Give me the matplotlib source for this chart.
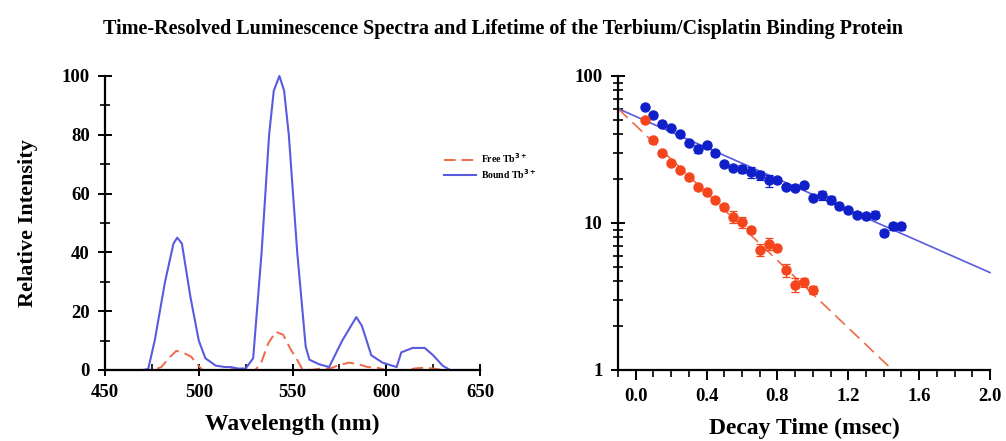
import numpy as np
import matplotlib
matplotlib.use("Agg")
import matplotlib.pyplot as plt
from matplotlib.ticker import MultipleLocator, LogLocator, NullFormatter, FuncFormatter

plt.rcParams['font.family'] = ['Liberation Serif', 'DejaVu Serif']
plt.rcParams['font.weight'] = 'bold'

# --- spectra ---
wl_bound = [450, 470, 473, 476.5, 482, 486.5, 488.5, 491, 495.5, 500, 503.5, 509, 514, 517,
            521, 525, 529, 533.5, 537.5, 540, 543, 545.5, 548, 552.5, 557, 559, 564, 569.5,
            576.5, 584, 587, 592, 598, 605.5, 608, 614, 620.5, 625, 630, 634, 650]
bound = [0, 0, 0.3, 10, 30, 43, 45, 43, 25, 10, 4, 1.5, 1, 1,
         0.5, 0.5, 4, 40, 80, 95, 100, 95, 80, 40, 8, 3.5, 2, 1,
         10, 18, 15, 5, 2.5, 1, 6, 7.5, 7.5, 5, 1.5, 0, 0]

wl_free = [450, 476, 480, 484, 488, 492, 496, 499, 502, 510, 520, 525, 530, 533, 537, 541,
           545, 549, 552, 555, 560, 565, 570, 574, 580, 585, 590, 595, 600, 610, 615, 620,
           625, 630, 650]
free = [0, 0, 1, 4, 6.5, 5.8, 4.5, 2, 0, 0, 0.3, 0, 0, 2, 9, 13,
        12, 7, 4, 0.5, 0, 0.5, 0.5, 1.5, 2.5, 2, 1, 0.8, 0, 0, 0.5, 0.8,
        0.5, 0, 0]

# --- lifetime decay data ---
t_bound = [0.05, 0.10, 0.15, 0.20, 0.25, 0.30, 0.35, 0.40, 0.45, 0.50, 0.55, 0.60, 0.65, 0.70,
           0.75, 0.80, 0.85, 0.90, 0.95, 1.00, 1.05, 1.10, 1.15, 1.20, 1.25, 1.30, 1.35, 1.40,
           1.45, 1.50]
i_bound = [62, 54.7, 47.5, 44, 40.6, 35, 32, 33.8, 29.7, 25.3, 23.8, 23.4, 22.2, 21.1,
           19.5, 19.5, 17.7, 17.4, 18, 14.9, 15.4, 14.3, 13, 12.2, 11.4, 11.2, 11.4, 8.6,
           9.5, 9.5]
e_bound = [1.5, 1.5, 1.2, 1.2, 1.0, 1.2, 2.0, 1.2, 1.0, 0.8, 0.8, 1.5, 2.0, 1.5,
           1.8, 0.8, 0.8, 0.7, 0.8, 0.6, 1.0, 0.9, 0.5, 0.5, 0.5, 0.5, 0.6, 0.4,
           0.5, 0.5]

t_free = [0.05, 0.10, 0.15, 0.20, 0.25, 0.30, 0.35, 0.40, 0.45, 0.50, 0.55, 0.60, 0.65, 0.70,
          0.75, 0.80, 0.85, 0.90, 0.95, 1.00]
i_free = [50, 36.6, 30, 25.6, 22.8, 20.5, 17.5, 16.2, 14.4, 12.8, 11, 10.1, 9.0, 6.6,
          7.2, 6.8, 4.8, 3.8, 3.95, 3.5]
e_free = [1.2, 1.0, 0.8, 0.7, 0.6, 0.6, 0.6, 0.5, 0.5, 0.6, 1.0, 0.8, 0.4, 0.6,
          0.7, 0.3, 0.5, 0.4, 0.3, 0.2]

# single-exponential fits (straight lines on the log axis)
fit_t_bound = [-0.1, 2.0]
fit_bound = [60, 4.6]
fit_t_free = [-0.1, 1.45]
fit_free = [60, 1.0]

c_bound_line = '#5a5ae0'
c_free_line = '#ee6a48'
c_bound_pt = '#1020c8'
c_free_pt = '#f5451c'

fig = plt.figure(figsize=(10.06, 4.41), dpi=100)
fig.text(0.5, 0.935, "Time-Resolved Luminescence Spectra and Lifetime of the Terbium/Cisplatin Binding Protein",
         ha='center', va='center', fontsize=14.5, fontweight='bold')

ax1 = fig.add_axes([0.1044, 0.161, 0.3728, 0.6667])
ax2 = fig.add_axes([0.6143, 0.161, 0.3698, 0.6667])


def style(ax):
    for s in ['top', 'right']:
        ax.spines[s].set_visible(False)
    for s in ['left', 'bottom']:
        ax.spines[s].set_linewidth(1.6)
    ax.tick_params(which='major', direction='inout', length=10, width=1.4, labelsize=13.5, pad=6)
    ax.tick_params(which='minor', direction='inout', length=7, width=1.2)
    for lab in ax.get_xticklabels() + ax.get_yticklabels():
        lab.set_fontweight('bold')


# left: spectra
ax1.plot(wl_free, free, color=c_free_line, ls=(0, (6, 3)), lw=1.4, label='Free Tb$^{3+}$', clip_on=False)
ax1.plot(wl_bound, bound, color=c_bound_line, lw=1.5, label='Bound Tb$^{3+}$', clip_on=False)
ax1.set_xlim(450, 650)
ax1.set_ylim(0, 100)
ax1.xaxis.set_major_locator(MultipleLocator(50))
ax1.xaxis.set_minor_locator(MultipleLocator(25))
ax1.yaxis.set_major_locator(MultipleLocator(20))
ax1.yaxis.set_minor_locator(MultipleLocator(10))
style(ax1)
ax1.tick_params(axis='x', which='major', length=8)
ax1.tick_params(axis='x', which='minor', direction='in', length=4)
ax1.set_xlabel('Wavelength (nm)', fontsize=17, fontweight='bold', labelpad=9)
ax1.set_ylabel('Relative Intensity', fontsize=16, fontweight='bold', labelpad=17)

fig.legend(loc='upper left', bbox_to_anchor=(0.437, 0.668), frameon=False,
           prop={'size': 7, 'weight': 'bold'}, handlelength=3.2, handletextpad=0.6,
           labelspacing=0.2, borderpad=0)

# right: lifetime
ax2.set_yscale('log')
ax2.plot(fit_t_bound, fit_bound, color=c_bound_line, lw=1.2, clip_on=False)
ax2.plot(fit_t_free, fit_free, color=c_free_line, lw=1.2, ls=(0, (8, 4)), clip_on=False)
ax2.errorbar(t_bound, i_bound, yerr=e_bound, fmt='o', color=c_bound_pt, ms=6.5,
             elinewidth=0.9, capsize=3, capthick=0.9)
ax2.errorbar(t_free, i_free, yerr=e_free, fmt='o', color=c_free_pt, ms=6.5,
             elinewidth=0.9, capsize=3, capthick=0.9)
ax2.set_xlim(-0.1, 2.0)
ax2.set_ylim(1, 100)
ax2.xaxis.set_major_locator(MultipleLocator(0.4))
ax2.xaxis.set_minor_locator(MultipleLocator(0.1))
ax2.xaxis.set_major_formatter(FuncFormatter(lambda v, p: f"{v:.1f}"))
ax2.yaxis.set_major_locator(LogLocator(base=10))
ax2.yaxis.set_minor_locator(LogLocator(base=10, subs=np.arange(2, 10)))
ax2.yaxis.set_major_formatter(FuncFormatter(lambda v, p: f"{v:g}"))
ax2.yaxis.set_minor_formatter(NullFormatter())
style(ax2)
ax2.tick_params(axis='x', which='major', direction='out', length=7)
ax2.tick_params(axis='x', which='minor', direction='out', length=5)
ax2.set_xlabel('Decay Time (msec)', fontsize=17, fontweight='bold', labelpad=9)

fig.savefig('out.png', dpi=100)
